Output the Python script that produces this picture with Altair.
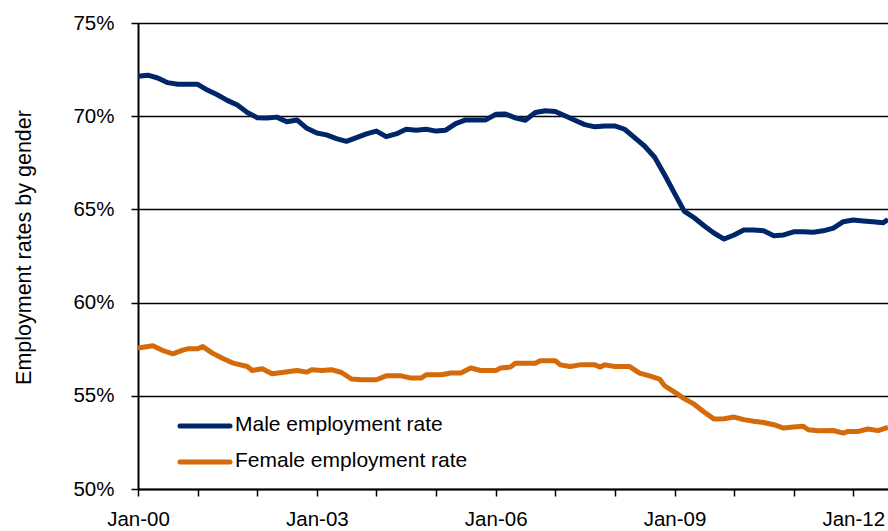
import altair as alt
import pandas as pd

# ---- data ----
series_names = ["Male employment rate", "Female employment rate"]
series_colors = ["#00266A", "#D46A0A"]

male_dates = [
    "2000-01", "2000-03", "2000-05", "2000-07", "2000-09", "2000-11",
    "2001-01", "2001-03", "2001-05", "2001-07", "2001-09", "2001-11",
    "2002-01", "2002-03", "2002-05", "2002-07", "2002-09", "2002-11",
    "2003-01", "2003-03", "2003-05", "2003-07", "2003-09", "2003-11",
    "2004-01", "2004-03", "2004-05", "2004-07", "2004-09", "2004-11",
    "2005-01", "2005-03", "2005-05", "2005-07", "2005-09", "2005-11",
    "2006-01", "2006-03", "2006-05", "2006-07", "2006-09", "2006-11",
    "2007-01", "2007-03", "2007-05", "2007-07", "2007-09", "2007-11",
    "2008-01", "2008-03", "2008-05", "2008-07", "2008-09", "2008-11",
    "2009-01", "2009-03", "2009-05", "2009-07", "2009-09", "2009-11",
    "2010-01", "2010-03", "2010-05", "2010-07", "2010-09", "2010-11",
    "2011-01", "2011-03", "2011-05", "2011-07", "2011-09", "2011-11",
    "2012-01", "2012-03", "2012-05", "2012-07", "2012-08",
]
male_values = [
    72.14, 72.20, 72.05, 71.80, 71.71, 71.71,
    71.71, 71.40, 71.15, 70.85, 70.60, 70.20,
    69.92, 69.90, 69.95, 69.70, 69.80, 69.35,
    69.10, 69.00, 68.80, 68.65, 68.85, 69.05,
    69.20, 68.90, 69.05, 69.30, 69.25, 69.30,
    69.20, 69.25, 69.60, 69.80, 69.80, 69.80,
    70.10, 70.12, 69.91, 69.78, 70.20, 70.29,
    70.25, 70.02, 69.78, 69.55, 69.43, 69.48,
    69.48, 69.30, 68.85, 68.40, 67.80, 66.86,
    65.86, 64.91, 64.55, 64.12, 63.72, 63.41,
    63.63, 63.89, 63.89, 63.86, 63.59, 63.63,
    63.80, 63.80, 63.77, 63.85, 64.00, 64.34,
    64.43, 64.38, 64.34, 64.28, 64.46,
]

female_dates = [
    "2000-01", "2000-03", "2000-04", "2000-06", "2000-08", "2000-10", "2000-11",
    "2001-01", "2001-02", "2001-04", "2001-06", "2001-08", "2001-09", "2001-11", "2001-12",
    "2002-02", "2002-04", "2002-06", "2002-09", "2002-11", "2002-12",
    "2003-02", "2003-04", "2003-06", "2003-08", "2003-10",
    "2004-01", "2004-03", "2004-06", "2004-08", "2004-10", "2004-11",
    "2005-02", "2005-04", "2005-06", "2005-08", "2005-10",
    "2006-01", "2006-02", "2006-04", "2006-05", "2006-09", "2006-10",
    "2007-01", "2007-02", "2007-04", "2007-06", "2007-09", "2007-10", "2007-11",
    "2008-01", "2008-04", "2008-06", "2008-08", "2008-10", "2008-11",
    "2009-01", "2009-03", "2009-05", "2009-07", "2009-09", "2009-11",
    "2010-01", "2010-03", "2010-05", "2010-07", "2010-09", "2010-11",
    "2011-01", "2011-03", "2011-04", "2011-06", "2011-09", "2011-11", "2011-12",
    "2012-02", "2012-04", "2012-06", "2012-08",
]
female_values = [
    57.56, 57.64, 57.68, 57.43, 57.25, 57.45, 57.52,
    57.52, 57.64, 57.29, 57.02, 56.77, 56.70, 56.57, 56.36,
    56.45, 56.18, 56.25, 56.36, 56.27, 56.40,
    56.36, 56.40, 56.25, 55.90, 55.86,
    55.86, 56.07, 56.07, 55.95, 55.95, 56.13,
    56.13, 56.22, 56.22, 56.49, 56.36,
    56.36, 56.49, 56.54, 56.75, 56.75, 56.88,
    56.88, 56.66, 56.57, 56.66, 56.66, 56.54, 56.66,
    56.57, 56.57, 56.22, 56.07, 55.90, 55.54,
    55.20, 54.85, 54.55, 54.13, 53.75, 53.77,
    53.86, 53.72, 53.63, 53.57, 53.45, 53.27,
    53.33, 53.36, 53.18, 53.13, 53.14, 53.00, 53.09,
    53.09, 53.22, 53.13, 53.30,
]

y_ticks = [50, 55, 60, 65, 70, 75]
x_tick_years = list(range(2000, 2013))
y_title = "Employment rates by gender"

# ---- build table ----
df = pd.concat([
    pd.DataFrame({"date": male_dates, "value": male_values, "series": series_names[0]}),
    pd.DataFrame({"date": female_dates, "value": female_values, "series": series_names[1]}),
], ignore_index=True)
legend_df = pd.DataFrame({"series": series_names})

FONT = "Liberation Sans"
color_scale = alt.Scale(domain=series_names, range=series_colors)

x_enc = alt.X(
    "date:T",
    scale=alt.Scale(
        type="utc",
        domain=[alt.DateTime(year=2000, month=1, date=1, utc=True),
                alt.DateTime(year=2012, month=8, date=1, utc=True)],
    ),
    axis=alt.Axis(
        values=[alt.DateTime(year=y, month=1, date=1, utc=True) for y in x_tick_years],
        labelExpr="(utcyear(datum.value) - 2000) % 3 == 0 ? utcFormat(datum.value, '%b-%y') : ''",
        labelOverlap=False,
        labelFlush=False,
        grid=False,
        domainColor="#000000",
        domainWidth=2,
        tickColor="#000000",
        tickWidth=1.5,
        tickSize=7,
        labelPadding=13,
        labelFont=FONT,
        labelFontSize=20.5,
        labelColor="#000000",
        title=None,
    ),
)

y_enc = alt.Y(
    "value:Q",
    scale=alt.Scale(domain=[50, 75], nice=False, zero=False),
    axis=alt.Axis(
        values=y_ticks,
        labelExpr="datum.value + '%'",
        grid=True,
        gridColor="#000000",
        gridWidth=1.5,
        domainColor="#000000",
        domainWidth=2,
        tickColor="#000000",
        tickWidth=1.5,
        tickSize=7,
        labelPadding=17,
        labelFont=FONT,
        labelFontSize=20.5,
        labelColor="#000000",
        title=y_title,
        titleFont=FONT,
        titleFontSize=21.5,
        titleFontWeight="normal",
        titleColor="#000000",
        titleAngle=270,
        titleAlign="center",
        titleBaseline="alphabetic",
        titleX=-108,
        titleY=224,
    ),
)

lines = alt.Chart(df).mark_line(strokeWidth=5, strokeJoin="round", clip=True).encode(
    x=x_enc,
    y=y_enc,
    color=alt.Color("series:N", scale=color_scale, legend=None),
)

legend_y = alt.Y(
    "series:N",
    scale=alt.Scale(type="point", domain=series_names, range=[403, 439], padding=0),
    axis=None,
)

legend_rule = alt.Chart(legend_df).mark_rule(strokeWidth=5, strokeCap="round").encode(
    x=alt.value(42),
    x2=alt.value(92),
    y=legend_y,
    color=alt.Color("series:N", scale=color_scale, legend=None),
)

legend_text = alt.Chart(legend_df).mark_text(
    align="left", baseline="middle", font=FONT, fontSize=21, color="#000000", dy=-1
).encode(
    x=alt.value(97),
    y=legend_y,
    text="series:N",
)

chart = (
    alt.layer(lines, legend_rule, legend_text)
    .resolve_scale(y="independent")
    .properties(
        width=750,
        height=466,
        autosize=alt.AutoSizeParams(type="none"),
        padding={"left": 138, "top": 23, "right": 0, "bottom": 42},
        background="#ffffff",
    )
    .configure_view(stroke=None)
)

chart.save("out.html", embed_options={"renderer": "svg", "actions": False})
